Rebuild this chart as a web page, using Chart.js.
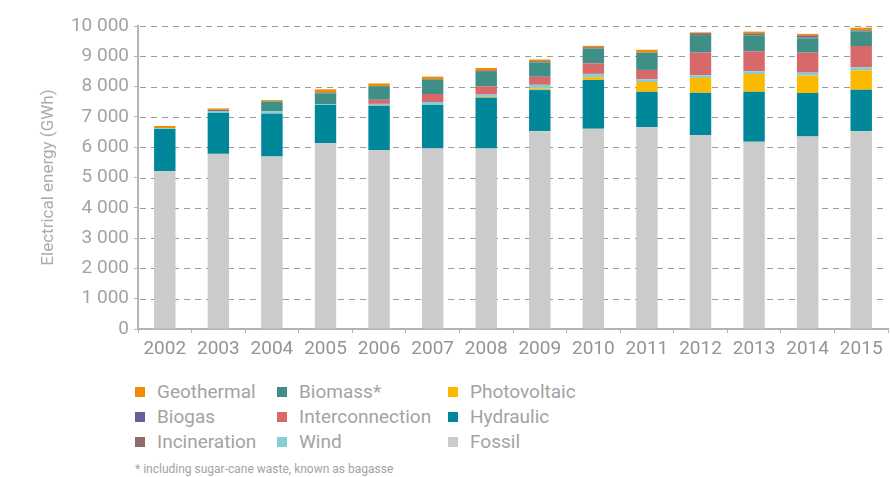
<!DOCTYPE html>
<html>
<head>
<meta charset="utf-8">
<script src="https://cdn.jsdelivr.net/npm/chart.js@4/dist/chart.umd.min.js"></script>
<style>
    body { margin: 0; background: #fff; font-family: Roboto, "Noto Sans", sans-serif; }
    #wrap { position: relative; width: 890px; height: 477px; }
    #legend {
        position: absolute; left: 135px; top: 379px;
        display: grid; grid-template-columns: 142px 171px 180px;
        grid-auto-rows: 25px; font-weight: 400; font-size: 19px; color: #a3a3a3;
    }
    #legend .item { display: flex; align-items: center; white-space: nowrap; }
    #legend .box { width: 10px; height: 10px; margin-right: 12px; flex: none; }
    #note {
        position: absolute; left: 135px; top: 462px;
        font-size: 12px; font-weight: 400; color: #a3a3a3;
    }
</style>
</head>
<body>
<div id="wrap">
    <canvas id="energyChart" width="890" height="370"></canvas>
    <div id="legend"></div>
    <div id="note">* including sugar-cane waste, known as bagasse</div>
</div>
<script>
const years = ['2002', '2003', '2004', '2005', '2006', '2007', '2008', '2009', '2010', '2011', '2012', '2013', '2014', '2015'];

// GWh per source, stacked from the bottom up
const fossil          = [5210, 5780, 5690, 6130, 5910, 5960, 5960, 6530, 6610, 6660, 6400, 6180, 6350, 6530];
const hydraulic       = [1390, 1355, 1410, 1265, 1455, 1430, 1670, 1355, 1610, 1170, 1400, 1650, 1435, 1365];
const photovoltaic    = [0, 0, 0, 0, 10, 0, 30, 45, 90, 320, 485, 585, 575, 640];
const wind            = [30, 60, 90, 30, 55, 100, 75, 130, 110, 90, 90, 90, 100, 100];
const interconnection = [0, 0, 0, 0, 135, 265, 275, 265, 350, 310, 750, 660, 660, 705];
const biomass         = [0, 0, 320, 355, 450, 485, 475, 470, 485, 575, 575, 530, 475, 485];
const incineration    = [0, 40, 0, 30, 0, 0, 55, 45, 45, 0, 65, 65, 30, 25];
const biogas          = [0, 0, 0, 0, 0, 0, 0, 0, 0, 0, 0, 0, 60, 20];
const geothermal      = [70, 45, 45, 100, 90, 90, 75, 55, 45, 90, 25, 55, 55, 75];

const yTicks = [0, 1000, 2000, 3000, 4000, 5000, 6000, 7000, 8000, 9000, 10000];

const series = [
    { label: 'Fossil', data: fossil, color: '#cbcbcb' },
    { label: 'Hydraulic', data: hydraulic, color: '#00879a' },
    { label: 'Photovoltaic', data: photovoltaic, color: '#fbb900' },
    { label: 'Wind', data: wind, color: '#86cdd4' },
    { label: 'Interconnection', data: interconnection, color: '#d7696b' },
    { label: 'Biomass*', data: biomass, color: '#3f8f86' },
    { label: 'Incineration', data: incineration, color: '#8b6d69' },
    { label: 'Biogas', data: biogas, color: '#6a5e96' },
    { label: 'Geothermal', data: geothermal, color: '#f28c00' }
];

// legend reads row by row in three columns
const legendOrder = ['Geothermal', 'Biomass*', 'Photovoltaic', 'Biogas', 'Interconnection', 'Hydraulic', 'Incineration', 'Wind', 'Fossil'];

const fmt = v => String(v).replace(/\B(?=(\d{3})+(?!\d))/g, ' ');
const axisGray = '#b4b4b4';
const textGray = '#a3a3a3';

const chart = new Chart(document.getElementById('energyChart'), {
    type: 'bar',
    data: {
        labels: years,
        datasets: series.map(s => ({
            label: s.label,
            data: s.data,
            backgroundColor: s.color,
            borderWidth: 0,
            barPercentage: 0.4,
            categoryPercentage: 1
        }))
    },
    options: {
        responsive: false,
        animation: false,
        layout: { padding: { top: 26, right: 2, bottom: 1, left: 0 } },
        plugins: { legend: { display: false }, tooltip: { enabled: false } },
        scales: {
            x: {
                stacked: true,
                border: { color: axisGray, width: 2 },
                grid: { offset: true, drawOnChartArea: false, tickLength: 4, color: axisGray, tickColor: axisGray },
                ticks: { color: '#949494', padding: 5, font: { family: 'Roboto', size: 19, weight: 400 } },
                afterFit: s => { s.height = 40; }
            },
            y: {
                stacked: true,
                min: 0,
                max: 10000,
                afterBuildTicks: s => { s.ticks = yTicks.map(v => ({ value: v })); },
                border: { color: axisGray, width: 2, dash: [] },
                grid: { drawOnChartArea: false, tickLength: 4, tickColor: axisGray },
                ticks: {
                    color: textGray, padding: 5,
                    font: { family: 'Roboto', size: 19, weight: 400 },
                    callback: v => fmt(v)
                },
                title: {
                    display: true,
                    text: 'Electrical energy (GWh)',
                    color: '#ababab',
                    font: { family: 'Roboto', size: 17, weight: 400 },
                    padding: { top: 39, bottom: 0 }
                },
                afterFit: s => { s.width = 138; }
            }
        }
    },
    plugins: [{
        // dashed horizontal grid, drawn behind the bars
        id: 'dashedGrid',
        beforeDatasetsDraw(c) {
            const { ctx, chartArea, scales } = c;
            ctx.save();
            ctx.strokeStyle = '#9a9a9a';
            ctx.lineWidth = 1;
            ctx.setLineDash([6, 5]);
            yTicks.slice(1).forEach(v => {
                const y = Math.round(scales.y.getPixelForValue(v)) + 0.5;
                ctx.beginPath();
                ctx.moveTo(chartArea.left + 2, y);
                ctx.lineTo(chartArea.right, y);
                ctx.stroke();
            });
            ctx.restore();
        }
    }]
});

const legend = document.getElementById('legend');
legendOrder.forEach(name => {
    const ds = chart.data.datasets.find(d => d.label === name);
    const item = document.createElement('div');
    item.className = 'item';
    item.innerHTML = `<span class="box" style="background:${ds.backgroundColor}"></span>${name}`;
    legend.appendChild(item);
});
</script>
</body>
</html>
